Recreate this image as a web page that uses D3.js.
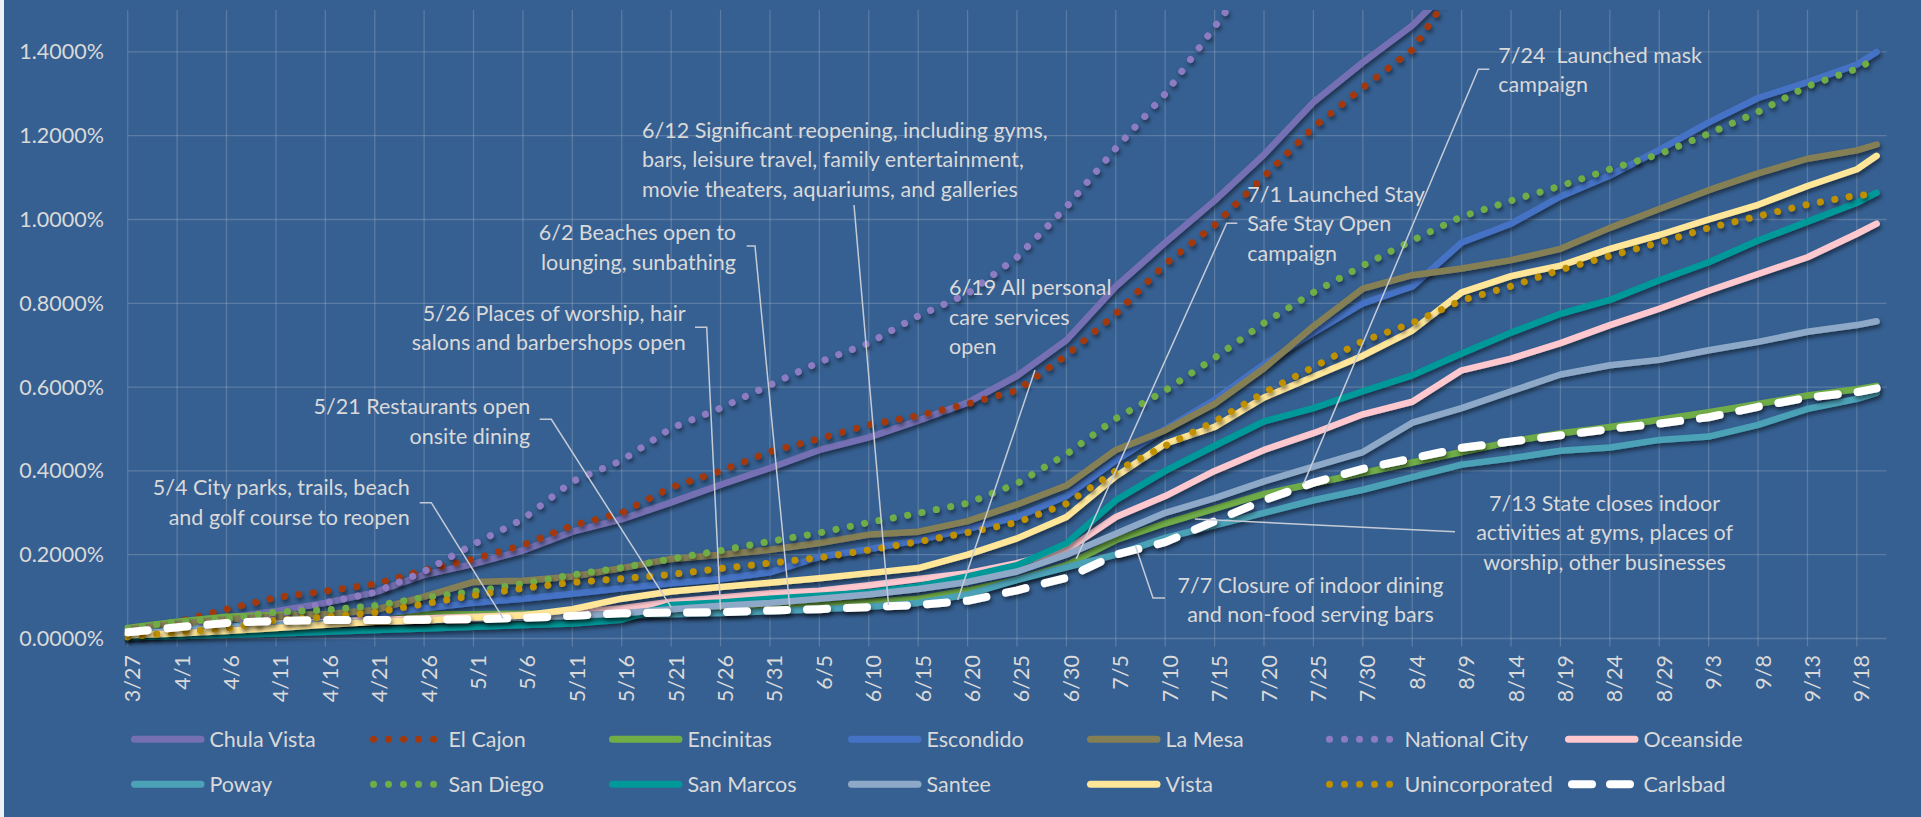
<!DOCTYPE html>
<html>
<head>
<meta charset="utf-8">
<script src="https://cdn.jsdelivr.net/npm/d3@7"></script>
<style>
  html, body { margin: 0; padding: 0; background: #366092; overflow: hidden; }
  svg { display: block; }
  text { font-family: Lato, "Open Sans", sans-serif; fill: #d9d9d9; }
</style>
</head>
<body>
<div id="main"></div>
<script>
// sample dates (2020), one reading every 5 days
var dates = ["3/27","4/1","4/6","4/11","4/16","4/21","4/26","5/1","5/6","5/11","5/16","5/21","5/26","5/31",
  "6/5","6/10","6/15","6/20","6/25","6/30","7/5","7/10","7/15","7/20","7/25","7/30","8/4","8/9","8/14",
  "8/19","8/24","8/29","9/3","9/8","9/13","9/18","9/20"];

// x axis labels
var tickLabels = ["3/27","4/1","4/6","4/11","4/16","4/21","4/26","5/1","5/6","5/11","5/16","5/21","5/26","5/31",
  "6/5","6/10","6/15","6/20","6/25","6/30","7/5","7/10","7/15","7/20","7/25","7/30","8/4","8/9","8/14",
  "8/19","8/24","8/29","9/3","9/8","9/13","9/18"];
var axisStart = "3/27", axisEnd = "9/21";

// y axis labels (percent)
var yTicks = [0, 0.2, 0.4, 0.6, 0.8, 1.0, 1.2, 1.4];
var yMax = 1.5;

// cumulative cases as % of population
var chulaVista = [0.022,0.035,0.05,0.065,0.085,0.11,0.152,0.178,0.21,0.255,
  0.285,0.325,0.367,0.407,0.45,0.48,0.52,0.563,0.627,0.712,
  0.84,0.945,1.045,1.155,1.28,1.375,1.463,1.58,null,null,
  null,null,null,null,null,null,null];
var elCajon = [0.015,0.04,0.07,0.098,0.113,0.13,0.163,0.19,0.223,0.27,
  0.3,0.361,0.4,0.446,0.477,0.51,0.532,0.56,0.592,0.676,
  0.775,0.894,0.987,1.103,1.22,1.315,1.405,1.58,null,null,
  null,null,null,null,null,null,null];
var encinitas = [0.025,0.04,0.052,0.056,0.057,0.058,0.058,0.058,0.059,0.06,
  0.062,0.066,0.07,0.075,0.08,0.088,0.095,0.115,0.14,0.175,
  0.235,0.275,0.31,0.345,0.37,0.395,0.42,0.445,0.47,0.49,
  0.505,0.522,0.54,0.56,0.58,0.595,0.603];
var escondido = [0.018,0.032,0.042,0.046,0.05,0.058,0.072,0.085,0.095,0.107,
  0.12,0.132,0.142,0.158,0.195,0.213,0.235,0.262,0.29,0.34,
  0.425,0.5,0.57,0.655,0.73,0.8,0.84,0.945,0.99,1.055,
  1.105,1.166,1.232,1.29,1.328,1.37,1.4];
var laMesa = [0.022,0.035,0.046,0.052,0.058,0.068,0.1,0.135,0.138,0.148,
  0.168,0.19,0.2,0.212,0.228,0.248,0.255,0.28,0.32,0.365,
  0.45,0.497,0.56,0.645,0.745,0.835,0.867,0.883,0.903,0.93,
  0.98,1.025,1.07,1.11,1.145,1.165,1.179];
var nationalCity = [0.01,0.022,0.035,0.055,0.085,0.11,0.16,0.225,0.285,0.375,
  0.425,0.502,0.55,0.605,0.66,0.705,0.77,0.823,0.91,1.03,
  1.17,1.3,1.46,1.62,null,null,null,null,null,null,
  null,null,null,null,null,null,null];
var oceanside = [0.01,0.02,0.028,0.035,0.04,0.044,0.048,0.052,0.056,0.062,
  0.072,0.088,0.098,0.108,0.114,0.127,0.142,0.156,0.18,0.211,
  0.29,0.34,0.4,0.45,0.49,0.535,0.565,0.64,0.668,0.705,
  0.748,0.787,0.83,0.87,0.91,0.966,0.99];
var poway = [0.012,0.02,0.028,0.033,0.037,0.04,0.043,0.046,0.049,0.052,
  0.055,0.058,0.061,0.065,0.07,0.076,0.085,0.105,0.14,0.17,
  0.2,0.24,0.27,0.3,0.33,0.355,0.385,0.415,0.43,0.448,
  0.456,0.474,0.482,0.51,0.548,0.572,0.586];
var sanDiego = [0.024,0.04,0.047,0.063,0.068,0.078,0.098,0.112,0.131,0.152,
  0.169,0.19,0.21,0.232,0.252,0.277,0.299,0.323,0.37,0.44,
  0.525,0.592,0.67,0.753,0.826,0.89,0.95,1.007,1.045,1.08,
  1.12,1.156,1.205,1.257,1.318,1.36,1.385];
var sanMarcos = [0.003,0.006,0.009,0.012,0.016,0.02,0.024,0.028,0.032,0.036,
  0.045,0.08,0.086,0.095,0.102,0.11,0.125,0.148,0.175,0.227,
  0.33,0.4,0.46,0.518,0.55,0.59,0.628,0.68,0.73,0.775,
  0.808,0.855,0.898,0.95,0.995,1.04,1.064];
var santee = [0.01,0.018,0.025,0.03,0.035,0.04,0.043,0.047,0.05,0.055,
  0.06,0.07,0.078,0.085,0.095,0.105,0.118,0.135,0.16,0.2,
  0.25,0.3,0.335,0.375,0.41,0.445,0.515,0.55,0.59,0.63,
  0.652,0.665,0.688,0.708,0.732,0.748,0.757];
var vista = [0.008,0.012,0.018,0.025,0.033,0.04,0.043,0.05,0.055,0.07,
  0.095,0.112,0.123,0.133,0.144,0.156,0.168,0.2,0.239,0.29,
  0.387,0.465,0.505,0.575,0.625,0.675,0.735,0.826,0.865,0.89,
  0.93,0.963,1.0,1.035,1.08,1.12,1.152];
var unincorporated = [0.004,0.015,0.024,0.044,0.051,0.062,0.083,0.103,0.12,0.134,
  0.143,0.153,0.167,0.18,0.193,0.211,0.231,0.253,0.277,0.322,
  0.4,0.46,0.518,0.587,0.648,0.71,0.753,0.807,0.841,0.88,
  0.913,0.945,0.98,1.008,1.036,1.058,1.06];
var carlsbad = [0.015,0.027,0.037,0.042,0.044,0.044,0.045,0.046,0.049,0.054,
  0.06,0.062,0.063,0.067,0.07,0.075,0.08,0.09,0.115,0.145,
  0.2,0.23,0.28,0.33,0.372,0.405,0.43,0.455,0.47,0.485,
  0.5,0.513,0.528,0.553,0.575,0.588,0.597];

// series in legend / drawing order
var series = [
  {key: "Chula Vista", values: chulaVista, color: "#7570b3", type: "solid"},
  {key: "El Cajon", values: elCajon, color: "#a3390b", type: "dot"},
  {key: "Encinitas", values: encinitas, color: "#70ad47", type: "solid"},
  {key: "Escondido", values: escondido, color: "#4472c4", type: "solid"},
  {key: "La Mesa", values: laMesa, color: "#857f55", type: "solid"},
  {key: "National City", values: nationalCity, color: "#8e7cc3", type: "dot"},
  {key: "Oceanside", values: oceanside, color: "#ffc7ce", type: "solid"},
  {key: "Poway", values: poway, color: "#4ba2b7", type: "solid"},
  {key: "San Diego", values: sanDiego, color: "#70ad47", type: "dot"},
  {key: "San Marcos", values: sanMarcos, color: "#00999a", type: "solid"},
  {key: "Santee", values: santee, color: "#8ea9c8", type: "solid"},
  {key: "Vista", values: vista, color: "#ffe699", type: "solid"},
  {key: "Unincorporated", values: unincorporated, color: "#bf9000", type: "dot"},
  {key: "Carlsbad", values: carlsbad, color: "#ffffff", type: "dash"}
];

// event notes, pointing at the Carlsbad line
var notes = [
  {date: "5/4", value: 0.048, lines: ["5/4 City parks, trails, beach", "and golf course to reopen"]},
  {date: "5/21", value: 0.075, lines: ["5/21 Restaurants open", "onsite dining"]},
  {date: "5/26", value: 0.068, lines: ["5/26 Places of worship, hair", "salons and barbershops open"]},
  {date: "6/2", value: 0.076, lines: ["6/2 Beaches open to", "lounging, sunbathing"]},
  {date: "6/12", value: 0.08, lines: ["6/12 Significant reopening, including gyms,", "bars, leisure travel, family entertainment,", "movie theaters, aquariums, and galleries"]},
  {date: "6/19", value: 0.092, lines: ["6/19 All personal", "care services", "open"]},
  {date: "7/1", value: 0.19, lines: ["7/1 Launched Stay", "Safe Stay Open", "campaign"]},
  {date: "7/7", value: 0.22, lines: ["7/7 Closure of indoor dining", "and non-food serving bars"]},
  {date: "7/13", value: 0.285, lines: ["7/13 State closes indoor", "activities at gyms, places of", "worship, other businesses"]},
  {date: "7/24", value: 0.369, lines: ["7/24  Launched mask", "campaign"]}
];

// where each note's text box and leader start sit
var noteLayout = [
  {x: 409.7, y: 488.3, align: "end", from: [[419.7, 502.7], [431.3, 502.7]]},
  {x: 530.3, y: 407.3, align: "end", from: [[539.7, 419.3], [551.3, 419.3]]},
  {x: 685.7, y: 314, align: "end", from: [[695, 327.3], [706.7, 327.3]]},
  {x: 736, y: 233.3, align: "end", from: [[746.7, 246], [755, 246]]},
  {x: 642, y: 131, align: "start", from: [[854, 205]]},
  {x: 949, y: 288.3, align: "start", from: [[1035, 370]]},
  {x: 1247.3, y: 195, align: "start", from: [[1237.3, 223.3], [1226.7, 223.3]]},
  {x: 1310.5, y: 585.6, align: "middle", from: [[1165, 598], [1153, 598]]},
  {x: 1604.6, y: 504, align: "middle", from: [[1455, 531.7]]},
  {x: 1498.3, y: 56, align: "start", from: [[1489.3, 69.3], [1478.3, 69.3]]}
];

// sizes
var W = 1921, H = 817;
var plot = {left: 127.7, right: 1886.5, top: 10, bottom: 638.5};
var fontSize = 21.5, lineGap = 29.3;

var parseDay = function(s) { return d3.utcParse("%m/%d/%Y")(s + "/2020"); };

var x = d3.scaleUtc()
    .domain([parseDay(axisStart), parseDay(axisEnd)])
    .range([plot.left, plot.right]);

var y = d3.scaleLinear()
    .domain([0, yMax])
    .range([plot.bottom, plot.top]);

var svg = d3.select("#main").append("svg")
    .attr("width", W)
    .attr("height", H);

svg.append("rect").attr("width", W).attr("height", H).attr("fill", "#366092");
svg.append("rect").attr("width", 4).attr("height", H).attr("fill", "#eef1f5");

var defs = svg.append("defs");
defs.append("clipPath").attr("id", "plotClip")
  .append("rect")
    .attr("x", plot.left - 3)
    .attr("y", plot.top)
    .attr("width", plot.right - plot.left + 10)
    .attr("height", plot.bottom - plot.top + 12);

var shadow = defs.append("filter").attr("id", "shadow")
    .attr("filterUnits", "userSpaceOnUse")
    .attr("x", 0).attr("y", 0).attr("width", W).attr("height", H);
shadow.append("feDropShadow")
    .attr("dx", 1.5).attr("dy", 3).attr("stdDeviation", 2.2)
    .attr("flood-color", "#000").attr("flood-opacity", 0.5);

var gridColor = "rgba(217,217,217,0.22)";

// horizontal gridlines
svg.append("g").selectAll("line")
    .data(yTicks)
    .enter().append("line")
    .attr("x1", plot.left).attr("x2", plot.right)
    .attr("y1", function(d) { return y(d); })
    .attr("y2", function(d) { return y(d); })
    .attr("stroke", gridColor)
    .attr("stroke-width", 1.3);

// vertical gridlines with tick marks below the axis
svg.append("g").selectAll("line")
    .data(tickLabels)
    .enter().append("line")
    .attr("x1", function(d) { return x(parseDay(d)); })
    .attr("x2", function(d) { return x(parseDay(d)); })
    .attr("y1", plot.top)
    .attr("y2", plot.bottom + 8)
    .attr("stroke", gridColor)
    .attr("stroke-width", 1.3);

// y labels
svg.append("g").selectAll("text")
    .data(yTicks)
    .enter().append("text")
    .attr("x", 104)
    .attr("y", function(d) { return y(d) + 7.5; })
    .attr("text-anchor", "end")
    .style("font-size", fontSize + "px")
    .text(function(d) { return d3.format(".4f")(d) + "%"; });

// x labels, rotated
svg.append("g").selectAll("text")
    .data(tickLabels)
    .enter().append("text")
    .attr("transform", function(d) { return "translate(" + (x(parseDay(d)) + 12.5) + ",655) rotate(-90)"; })
    .attr("text-anchor", "end")
    .style("font-size", fontSize + "px")
    .text(function(d) { return d; });

// lines
var line = d3.line()
    .defined(function(d) { return d.v != null; })
    .x(function(d) { return x(d.date); })
    .y(function(d) { return y(d.v); });

function styleLine(sel, s) {
    sel.attr("fill", "none")
       .attr("stroke", s.color)
       .attr("stroke-linecap", "round")
       .attr("stroke-linejoin", "round");
    if (s.type === "solid") sel.attr("stroke-width", 6.5);
    if (s.type === "dot") sel.attr("stroke-width", 7).attr("stroke-dasharray", "0.01,14.6");
    if (s.type === "dash") sel.attr("stroke-width", 8).attr("stroke-dasharray", "20,20");
}

var lines = svg.append("g").attr("clip-path", "url(#plotClip)");
series.forEach(function(s) {
    var pts = s.values.map(function(v, i) { return {date: parseDay(dates[i]), v: v}; });
    lines.append("path")
        .datum(pts)
        .attr("d", line)
        .attr("filter", "url(#shadow)")
        .call(styleLine, s);
});

// notes with leader lines
var noteG = svg.append("g");
notes.forEach(function(n, i) {
    var lay = noteLayout[i];
    var pts = lay.from.concat([[x(parseDay(n.date)), y(n.value)]]);
    noteG.append("path")
        .attr("d", d3.line()(pts))
        .attr("fill", "none")
        .attr("stroke", "#c5cbd6")
        .attr("stroke-width", 1.5);
    var t = noteG.append("text")
        .attr("text-anchor", lay.align)
        .style("font-size", fontSize + "px")
        .style("white-space", "pre");
    n.lines.forEach(function(l, j) {
        t.append("tspan")
            .attr("x", lay.x)
            .attr("y", lay.y + j * lineGap + 7)
            .text(l);
    });
});

// legend: 2 rows of 7
var legend = svg.append("g");
series.forEach(function(s, i) {
    var x0 = 131 + (i % 7) * 239;
    var yy = i < 7 ? 739.3 : 784.3;
    var g = legend.append("g");
    var sw = g.append("path");
    if (s.type === "dash") sw.attr("d", "M" + (x0 + 7) + "," + yy + "H" + (x0 + 66));
    else sw.attr("d", "M" + (x0 + 3.5) + "," + yy + "H" + (x0 + 70));
    sw.call(styleLine, s);
    if (s.type === "solid") sw.attr("stroke-width", 7);
    if (s.type === "dot") sw.attr("stroke-dasharray", "0.01,15");
    if (s.type === "dash") sw.attr("stroke-dasharray", "20,18");
    g.append("text")
        .attr("x", x0 + 78.5)
        .attr("y", yy + 7.5)
        .style("font-size", fontSize + "px")
        .text(s.key);
});
</script>
</body>
</html>
